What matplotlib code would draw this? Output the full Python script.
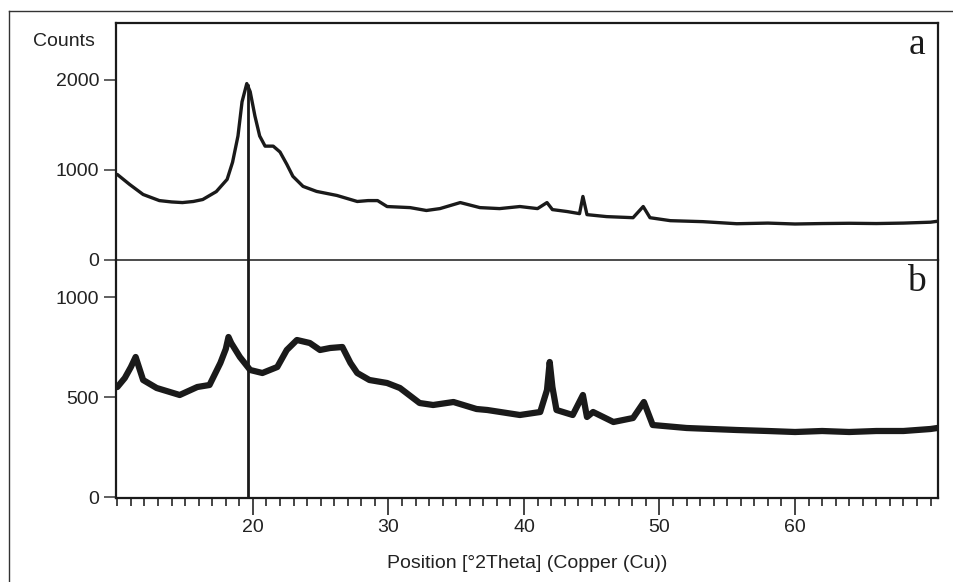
import matplotlib
matplotlib.use("Agg")
import matplotlib.pyplot as plt
from matplotlib.lines import Line2D
from matplotlib.ticker import MultipleLocator

# sample a (upper trace)
a_x = [9.9, 10.0, 10.9, 11.9, 13.1, 14.0, 14.8, 15.6, 16.3, 17.3, 18.1, 18.5, 18.9,
       19.2, 19.55, 19.8, 20.15, 20.5, 20.9, 21.5, 22.0, 22.5, 22.95, 23.7, 24.7,
       26.2, 27.7, 28.5, 29.2, 29.9, 31.6, 32.8, 33.8, 35.3, 36.75, 38.2, 39.7,
       41.0, 41.7, 42.1, 43.2, 44.1, 44.35, 44.65, 46.1, 48.05, 48.8, 49.3, 50.8,
       53.2, 55.7, 58.0, 60.0, 62.0, 64.0, 66.0, 68.0, 70.0, 70.5]
a_counts = [950, 950, 840, 728, 660, 645, 638, 650, 672, 760, 896, 1086, 1378,
            1758, 1960, 1870, 1600, 1378, 1265, 1265, 1200, 1064, 930, 818, 762,
            717, 650, 660, 660, 594, 582, 550, 571, 638, 582, 571, 594,
            571, 638, 560, 538, 515, 706, 504, 482, 470, 594, 470, 437,
            426, 403, 410, 400, 405, 408, 405, 410, 420, 430]

# sample b (lower trace)
b_x = [9.9, 10.0, 10.55, 11.0, 11.35, 11.9, 12.9, 14.6, 15.9, 16.8, 17.6, 18.0,
       18.2, 18.4, 19.04, 19.8, 20.7, 21.8, 22.5, 23.25, 24.2, 24.95, 25.7, 26.6,
       27.2, 27.7, 28.6, 29.9, 30.85, 32.3, 33.3, 34.8, 36.5, 37.3, 39.7, 41.2,
       41.7, 41.9, 42.1, 42.4, 43.6, 44.35, 44.65, 45.1, 46.6, 48.05, 48.85, 49.5,
       52.0, 55.7, 58.0, 60.0, 62.0, 64.0, 66.0, 68.0, 70.0, 70.5]
b_counts = [550, 550, 595, 650, 700, 585, 545, 510, 550, 560, 670, 740,
            800, 770, 700, 635, 620, 650, 735, 785, 770, 735, 745, 750,
            670, 620, 585, 570, 545, 470, 460, 475, 440, 435, 410, 425,
            535, 675, 550, 435, 410, 510, 400, 425, 375, 395, 475, 360,
            345, 335, 330, 325, 330, 325, 330, 330, 340, 345]

a_ticks = [0, 1000, 2000]
b_ticks = [0, 500, 1000]
x_ticks = [20, 30, 40, 50, 60]
marker_x = 19.65

W, H = 954, 582
fig = plt.figure(figsize=(W / 100, H / 100), dpi=100)
plt.rcParams['font.family'] = ['Liberation Sans', 'DejaVu Sans']

left = 116 / W
width = (938 - 116) / W
ax_a = fig.add_axes([left, 1 - 260 / H, width, (260 - 23) / H])
ax_b = fig.add_axes([left, 1 - 498 / H, width, (498 - 260) / H])

ink = '#1a1a1a'
for ax in (ax_a, ax_b):
    ax.set_xlim(9.9, 70.55)
    for s in ax.spines.values():
        s.set_color(ink)
        s.set_linewidth(1.6)
    ax.tick_params(axis='y', direction='out', length=9, width=1.2, colors='#444444',
                   labelcolor='#222222', labelsize=14, pad=3)

# upper panel
ax_a.plot(a_x, a_counts, color=ink, lw=2.4)
ax_a.vlines(marker_x, 0, max(a_counts), color=ink, lw=2.0)
ax_a.set_ylim(0, 2633)
ax_a.set_yticks(a_ticks)
ax_a.spines['bottom'].set_visible(False)
ax_a.tick_params(axis='x', bottom=False, labelbottom=False)
ax_a.text(0.985, 0.91, 'a', transform=ax_a.transAxes, ha='right', va='center',
          family='Liberation Serif', fontsize=27, color=ink)

# lower panel
ax_b.plot(b_x, b_counts, color=ink, lw=4.5)
ax_b.axvline(marker_x, color=ink, lw=2.0)
ax_b.set_ylim(-5, 1185)
ax_b.set_yticks(b_ticks)
ax_b.spines['top'].set_linewidth(1.1)
ax_b.set_xticks(x_ticks)
ax_b.xaxis.set_minor_locator(MultipleLocator(1))
ax_b.tick_params(axis='x', which='major', direction='out', length=12, width=1.4,
                 colors='#444444', labelcolor='#222222', labelsize=14, pad=3)
ax_b.tick_params(axis='x', which='minor', direction='out', length=6, width=1.4,
                 colors='#444444')
ax_b.text(0.985, 0.91, 'b', transform=ax_b.transAxes, ha='right', va='center',
          family='Liberation Serif', fontsize=27, color=ink)
ax_b.set_xlabel('Position [°2Theta] (Copper (Cu))', fontsize=14, color='#222222',
                labelpad=14)

fig.text(33 / W, 1 - 42 / H, 'Counts', ha='left', va='center', fontsize=14,
         color='#222222')

# outer frame (left and top edges visible in the scan)
fig.add_artist(Line2D([9 / W, 9 / W], [0, 1 - 11 / H], transform=fig.transFigure,
                      color='#333333', lw=1.0))
fig.add_artist(Line2D([9 / W, 1], [1 - 11 / H, 1 - 11 / H], transform=fig.transFigure,
                      color='#333333', lw=1.0))

fig.savefig('out.png', dpi=100)
